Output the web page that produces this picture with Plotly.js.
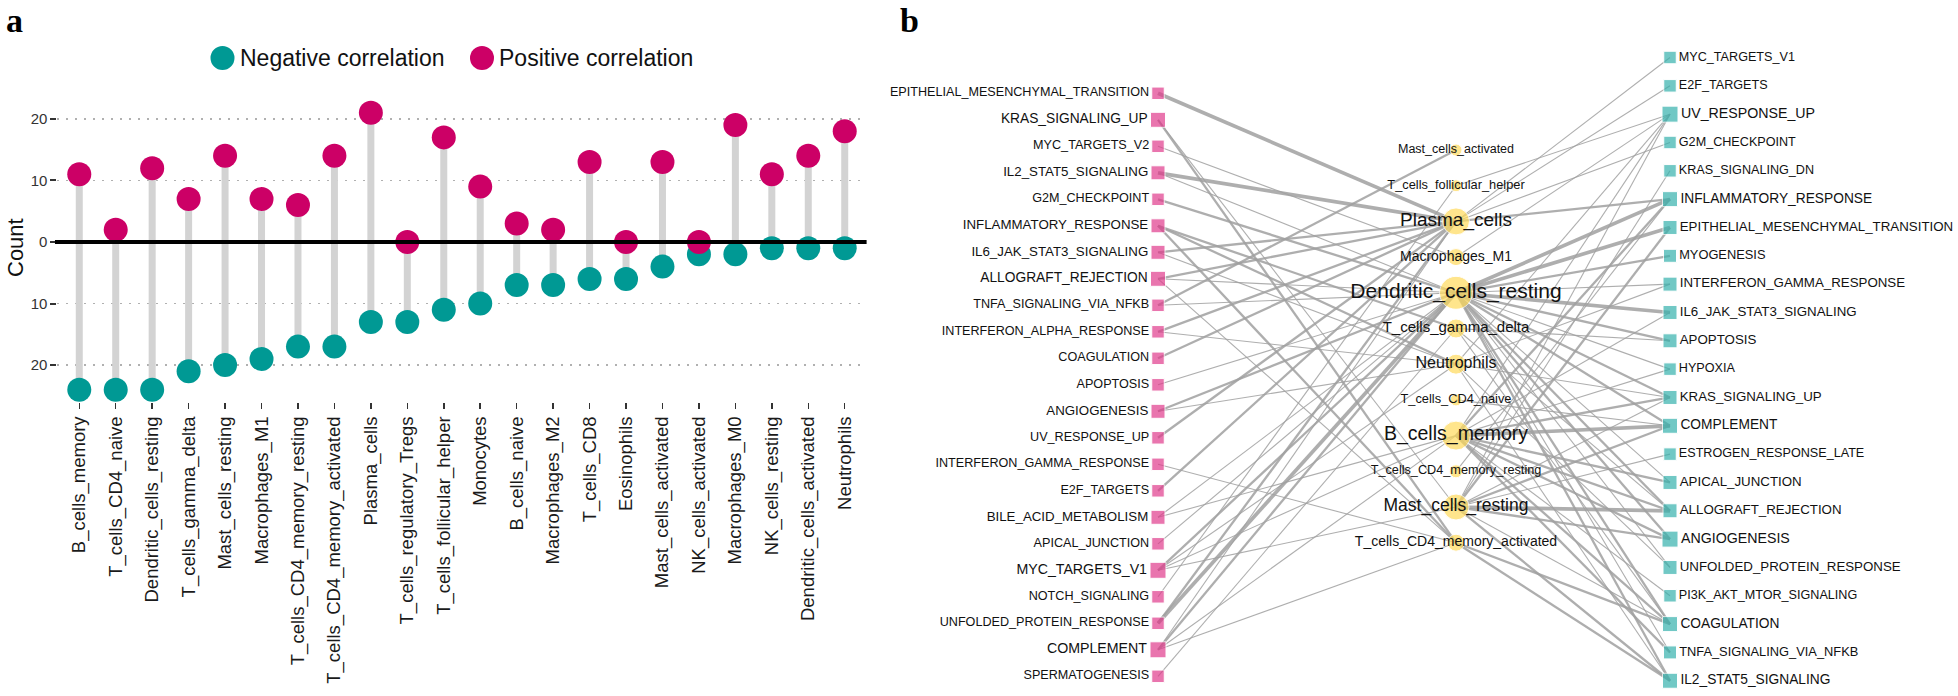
<!DOCTYPE html>
<html><head><meta charset="utf-8">
<script src="https://cdn.plot.ly/plotly-3.0.1.min.js"></script>
<style>html,body{margin:0;padding:0;background:#fff}#chart{width:1958px;height:696px}</style>
</head><body><div id="chart"></div>
<script>
// ================= Panel a data =================
const cellTypes = ["B_cells_memory","T_cells_CD4_naive","Dendritic_cells_resting","T_cells_gamma_delta","Mast_cells_resting","Macrophages_M1","T_cells_CD4_memory_resting","T_cells_CD4_memory_activated","Plasma_cells","T_cells_regulatory_Tregs","T_cells_follicular_helper","Monocytes","B_cells_naive","Macrophages_M2","T_cells_CD8","Eosinophils","Mast_cells_activated","NK_cells_activated","Macrophages_M0","NK_cells_resting","Dendritic_cells_activated","Neutrophils"];
const positiveCounts = [11,2,12,7,14,7,6,14,21,0,17,9,3,2,13,0,13,0,19,11,14,18];
const negativeCounts = [24,24,24,21,20,19,17,17,13,13,11,10,7,7,6,6,4,2,2,1,1,1];
const yTickVals = [-20,-10,0,10,20];
const yTickText = ["20","10","0","10","20"];
const legendLabels = ["Negative correlation","Positive correlation"];

// ================= Panel b data =================
const leftPathways = ["EPITHELIAL_MESENCHYMAL_TRANSITION","KRAS_SIGNALING_UP","MYC_TARGETS_V2","IL2_STAT5_SIGNALING","G2M_CHECKPOINT","INFLAMMATORY_RESPONSE","IL6_JAK_STAT3_SIGNALING","ALLOGRAFT_REJECTION","TNFA_SIGNALING_VIA_NFKB","INTERFERON_ALPHA_RESPONSE","COAGULATION","APOPTOSIS","ANGIOGENESIS","UV_RESPONSE_UP","INTERFERON_GAMMA_RESPONSE","E2F_TARGETS","BILE_ACID_METABOLISM","APICAL_JUNCTION","MYC_TARGETS_V1","NOTCH_SIGNALING","UNFOLDED_PROTEIN_RESPONSE","COMPLEMENT","SPERMATOGENESIS"];
const networkCells = ["Mast_cells_activated","T_cells_follicular_helper","Plasma_cells","Macrophages_M1","Dendritic_cells_resting","T_cells_gamma_delta","Neutrophils","T_cells_CD4_naive","B_cells_memory","T_cells_CD4_memory_resting","Mast_cells_resting","T_cells_CD4_memory_activated"];
const rightPathways = ["MYC_TARGETS_V1","E2F_TARGETS","UV_RESPONSE_UP","G2M_CHECKPOINT","KRAS_SIGNALING_DN","INFLAMMATORY_RESPONSE","EPITHELIAL_MESENCHYMAL_TRANSITION","MYOGENESIS","INTERFERON_GAMMA_RESPONSE","IL6_JAK_STAT3_SIGNALING","APOPTOSIS","HYPOXIA","KRAS_SIGNALING_UP","COMPLEMENT","ESTROGEN_RESPONSE_LATE","APICAL_JUNCTION","ALLOGRAFT_REJECTION","ANGIOGENESIS","UNFOLDED_PROTEIN_RESPONSE","PI3K_AKT_MTOR_SIGNALING","COAGULATION","TNFA_SIGNALING_VIA_NFKB","IL2_STAT5_SIGNALING"];
// [left pathway, cell, weight]
const leftEdges = [
 ["EPITHELIAL_MESENCHYMAL_TRANSITION","Plasma_cells",3],
 ["KRAS_SIGNALING_UP","T_cells_CD4_memory_activated",2],
 ["KRAS_SIGNALING_UP","Mast_cells_resting",1],
 ["MYC_TARGETS_V2","Macrophages_M1",1],
 ["IL2_STAT5_SIGNALING","Plasma_cells",3],
 ["IL2_STAT5_SIGNALING","Dendritic_cells_resting",1],
 ["G2M_CHECKPOINT","Dendritic_cells_resting",2],
 ["INFLAMMATORY_RESPONSE","Neutrophils",2],
 ["INFLAMMATORY_RESPONSE","T_cells_gamma_delta",2],
 ["INFLAMMATORY_RESPONSE","T_cells_CD4_memory_activated",2],
 ["IL6_JAK_STAT3_SIGNALING","Plasma_cells",2],
 ["IL6_JAK_STAT3_SIGNALING","Neutrophils",1],
 ["ALLOGRAFT_REJECTION","Plasma_cells",2],
 ["ALLOGRAFT_REJECTION","Dendritic_cells_resting",1],
 ["ALLOGRAFT_REJECTION","T_cells_CD4_memory_activated",1],
 ["TNFA_SIGNALING_VIA_NFKB","Mast_cells_activated",2],
 ["TNFA_SIGNALING_VIA_NFKB","Dendritic_cells_resting",1],
 ["INTERFERON_ALPHA_RESPONSE","Plasma_cells",2],
 ["INTERFERON_ALPHA_RESPONSE","Neutrophils",1],
 ["COAGULATION","Plasma_cells",2],
 ["APOPTOSIS","Dendritic_cells_resting",1],
 ["ANGIOGENESIS","Dendritic_cells_resting",2],
 ["ANGIOGENESIS","Neutrophils",1],
 ["UV_RESPONSE_UP","Plasma_cells",2],
 ["INTERFERON_GAMMA_RESPONSE","T_cells_CD4_memory_activated",1],
 ["E2F_TARGETS","Plasma_cells",2],
 ["BILE_ACID_METABOLISM","B_cells_memory",1],
 ["BILE_ACID_METABOLISM","Dendritic_cells_resting",1],
 ["APICAL_JUNCTION","Dendritic_cells_resting",1],
 ["MYC_TARGETS_V1","Mast_cells_resting",1],
 ["MYC_TARGETS_V1","B_cells_memory",1],
 ["MYC_TARGETS_V1","Dendritic_cells_resting",2],
 ["MYC_TARGETS_V1","Neutrophils",1],
 ["NOTCH_SIGNALING","T_cells_follicular_helper",1],
 ["UNFOLDED_PROTEIN_RESPONSE","Dendritic_cells_resting",3],
 ["UNFOLDED_PROTEIN_RESPONSE","Plasma_cells",2],
 ["COMPLEMENT","Dendritic_cells_resting",2],
 ["COMPLEMENT","Plasma_cells",1],
 ["COMPLEMENT","T_cells_CD4_memory_activated",1],
 ["COMPLEMENT","B_cells_memory",1],
 ["SPERMATOGENESIS","T_cells_gamma_delta",1]
];
// [cell, right pathway, weight]
const rightEdges = [
 ["Plasma_cells","MYC_TARGETS_V1",1],
 ["Plasma_cells","E2F_TARGETS",1],
 ["T_cells_follicular_helper","UV_RESPONSE_UP",1],
 ["Macrophages_M1","UV_RESPONSE_UP",1],
 ["Neutrophils","UV_RESPONSE_UP",1],
 ["B_cells_memory","UV_RESPONSE_UP",1],
 ["Mast_cells_resting","UV_RESPONSE_UP",1],
 ["Plasma_cells","G2M_CHECKPOINT",1],
 ["Mast_cells_resting","KRAS_SIGNALING_DN",1],
 ["Dendritic_cells_resting","INFLAMMATORY_RESPONSE",3],
 ["Plasma_cells","INFLAMMATORY_RESPONSE",2],
 ["B_cells_memory","INFLAMMATORY_RESPONSE",2],
 ["T_cells_CD4_memory_resting","INFLAMMATORY_RESPONSE",1],
 ["Dendritic_cells_resting","EPITHELIAL_MESENCHYMAL_TRANSITION",3],
 ["Mast_cells_resting","EPITHELIAL_MESENCHYMAL_TRANSITION",2],
 ["Dendritic_cells_resting","MYOGENESIS",2],
 ["Dendritic_cells_resting","INTERFERON_GAMMA_RESPONSE",1],
 ["Neutrophils","INTERFERON_GAMMA_RESPONSE",1],
 ["Dendritic_cells_resting","IL6_JAK_STAT3_SIGNALING",3],
 ["B_cells_memory","IL6_JAK_STAT3_SIGNALING",1],
 ["Dendritic_cells_resting","APOPTOSIS",2],
 ["T_cells_gamma_delta","APOPTOSIS",1],
 ["Dendritic_cells_resting","HYPOXIA",1],
 ["B_cells_memory","HYPOXIA",1],
 ["Dendritic_cells_resting","KRAS_SIGNALING_UP",2],
 ["B_cells_memory","KRAS_SIGNALING_UP",2],
 ["Mast_cells_resting","KRAS_SIGNALING_UP",1],
 ["Neutrophils","KRAS_SIGNALING_UP",1],
 ["B_cells_memory","COMPLEMENT",3],
 ["Mast_cells_resting","COMPLEMENT",2],
 ["Dendritic_cells_resting","COMPLEMENT",2],
 ["T_cells_CD4_naive","COMPLEMENT",1],
 ["Mast_cells_resting","ESTROGEN_RESPONSE_LATE",1],
 ["B_cells_memory","APICAL_JUNCTION",2],
 ["Dendritic_cells_resting","APICAL_JUNCTION",1],
 ["Mast_cells_resting","ALLOGRAFT_REJECTION",3],
 ["B_cells_memory","ALLOGRAFT_REJECTION",2],
 ["Dendritic_cells_resting","ALLOGRAFT_REJECTION",2],
 ["T_cells_gamma_delta","ALLOGRAFT_REJECTION",1],
 ["Mast_cells_resting","ANGIOGENESIS",2],
 ["Dendritic_cells_resting","ANGIOGENESIS",2],
 ["B_cells_memory","ANGIOGENESIS",2],
 ["Dendritic_cells_resting","UNFOLDED_PROTEIN_RESPONSE",1],
 ["Neutrophils","UNFOLDED_PROTEIN_RESPONSE",1],
 ["B_cells_memory","PI3K_AKT_MTOR_SIGNALING",1],
 ["Dendritic_cells_resting","COAGULATION",2],
 ["B_cells_memory","COAGULATION",2],
 ["Mast_cells_resting","COAGULATION",1],
 ["T_cells_CD4_memory_activated","COAGULATION",2],
 ["T_cells_gamma_delta","COAGULATION",1],
 ["Dendritic_cells_resting","TNFA_SIGNALING_VIA_NFKB",1],
 ["B_cells_memory","TNFA_SIGNALING_VIA_NFKB",2],
 ["Mast_cells_resting","IL2_STAT5_SIGNALING",2],
 ["T_cells_CD4_memory_activated","IL2_STAT5_SIGNALING",2],
 ["Dendritic_cells_resting","IL2_STAT5_SIGNALING",2],
 ["Neutrophils","IL2_STAT5_SIGNALING",1]
];

// ================= Styles (not data) =================
const W = 1958, H = 696;
const TEAL = "#009994", MAGENTA = "#CC0066";
const PINK = "#E03C8C", CYAN = "#36B2AD", YELLOW = "#FFDB5C";
const leftSquare = {KRAS_SIGNALING_UP:15, ALLOGRAFT_REJECTION:15, MYC_TARGETS_V1:16, COMPLEMENT:16, ANGIOGENESIS:14, BILE_ACID_METABOLISM:14, IL2_STAT5_SIGNALING:14, INFLAMMATORY_RESPONSE:14, IL6_JAK_STAT3_SIGNALING:14};
const rightSquare = {UV_RESPONSE_UP:16, INFLAMMATORY_RESPONSE:15, COMPLEMENT:15, ANGIOGENESIS:16, COAGULATION:15, IL2_STAT5_SIGNALING:15, EPITHELIAL_MESENCHYMAL_TRANSITION:14, INTERFERON_GAMMA_RESPONSE:14, IL6_JAK_STAT3_SIGNALING:14, APOPTOSIS:14, KRAS_SIGNALING_UP:14, APICAL_JUNCTION:14, ALLOGRAFT_REJECTION:14, UNFOLDED_PROTEIN_RESPONSE:14, MYOGENESIS:13, TNFA_SIGNALING_VIA_NFKB:13};
const cellCircle = {Mast_cells_activated:12, T_cells_follicular_helper:12, Plasma_cells:27, Macrophages_M1:17, Dendritic_cells_resting:33, T_cells_gamma_delta:19, Neutrophils:20, T_cells_CD4_naive:12, B_cells_memory:29, T_cells_CD4_memory_resting:13, Mast_cells_resting:26, T_cells_CD4_memory_activated:17};
const cellFont = {Mast_cells_activated:12.5, T_cells_follicular_helper:12.8, Plasma_cells:19, Macrophages_M1:14, Dendritic_cells_resting:21, T_cells_gamma_delta:15, Neutrophils:16, T_cells_CD4_naive:12.8, B_cells_memory:19.5, T_cells_CD4_memory_resting:12.7, Mast_cells_resting:17.5, T_cells_CD4_memory_activated:14};
const sqSize = (m, n) => m[n] || 12.5;
const sqFont = (m, n) => 12.4 + ((m[n] || 12.5) - 12) * 0.45;

// network layout (pixel-like coordinates on panel b axes)
const colX = {left: 1158, mid: 1456, right: 1670};
const leftY = i => 93.3 + i * 26.5;
const midY = i => 150 + i * 35.7;
const rightY = i => 57.5 + i * 28.33;
const posL = {}, posM = {}, posR = {};
leftPathways.forEach((n, i) => posL[n] = [colX.left, leftY(i)]);
networkCells.forEach((n, i) => posM[n] = [colX.mid, midY(i)]);
rightPathways.forEach((n, i) => posR[n] = [colX.right, rightY(i)]);

const traces = [];
// ---- Panel a traces ----
const segX = [], segY = [];
cellTypes.forEach((c, i) => { segX.push(c, c, null); segY.push(-negativeCounts[i], positiveCounts[i], null); });
traces.push({type: "scatter", mode: "lines", x: segX, y: segY, xaxis: "x", yaxis: "y",
  line: {color: "#D3D3D3", width: 7}, hoverinfo: "skip", showlegend: false});
traces.push({type: "scatter", mode: "markers", x: cellTypes, y: negativeCounts.map(v => -v), xaxis: "x", yaxis: "y",
  marker: {color: TEAL, size: 24}, name: legendLabels[0], showlegend: false});
traces.push({type: "scatter", mode: "markers", x: cellTypes, y: positiveCounts, xaxis: "x", yaxis: "y",
  marker: {color: MAGENTA, size: 24}, name: legendLabels[1], showlegend: false});

// ---- Panel b edges ----
const widthFor = {1: 1.1, 2: 2.3, 3: 3.7};
[1, 2, 3].forEach(w => {
  const ex = [], ey = [];
  leftEdges.filter(e => e[2] === w).forEach(e => { const a = posL[e[0]], b = posM[e[1]]; ex.push(a[0], b[0], null); ey.push(a[1], b[1], null); });
  rightEdges.filter(e => e[2] === w).forEach(e => { const a = posM[e[0]], b = posR[e[1]]; ex.push(a[0], b[0], null); ey.push(a[1], b[1], null); });
  traces.push({type: "scatter", mode: "lines", x: ex, y: ey, xaxis: "x2", yaxis: "y2",
    line: {color: "rgba(160,160,160,0.85)", width: widthFor[w]}, hoverinfo: "skip", showlegend: false});
});
// ---- Panel b nodes ----
traces.push({type: "scatter", mode: "markers+text", xaxis: "x2", yaxis: "y2", cliponaxis: false,
  x: leftPathways.map(n => posL[n][0]), y: leftPathways.map(n => posL[n][1]), text: leftPathways,
  textposition: "middle left", textfont: {family: "Liberation Sans, Arial", color: "#111", size: leftPathways.map(n => sqFont(leftSquare, n))},
  marker: {symbol: "square", color: PINK, size: leftPathways.map(n => sqSize(leftSquare, n))}, showlegend: false});
traces.push({type: "scatter", mode: "markers+text", xaxis: "x2", yaxis: "y2", cliponaxis: false,
  x: rightPathways.map(n => posR[n][0]), y: rightPathways.map(n => posR[n][1]), text: rightPathways,
  textposition: "middle right", textfont: {family: "Liberation Sans, Arial", color: "#111", size: rightPathways.map(n => sqFont(rightSquare, n))},
  marker: {symbol: "square", color: CYAN, size: rightPathways.map(n => sqSize(rightSquare, n))}, showlegend: false});
traces.push({type: "scatter", mode: "markers+text", xaxis: "x2", yaxis: "y2", cliponaxis: false,
  x: networkCells.map(n => posM[n][0]), y: networkCells.map(n => posM[n][1]), text: networkCells,
  textposition: "middle center", textfont: {family: "Liberation Sans, Arial", color: "#111", size: networkCells.map(n => cellFont[n])},
  marker: {symbol: "circle", color: YELLOW, size: networkCells.map(n => cellCircle[n])}, showlegend: false});

// ---- Layout ----
const px = v => v / W, py = v => 1 - v / H;
const bx0 = 1096;
const layout = {
  width: W, height: H, margin: {l: 0, r: 0, t: 0, b: 0},
  paper_bgcolor: "#fff", plot_bgcolor: "rgba(0,0,0,0)", showlegend: false,
  font: {family: "Liberation Sans, Arial", color: "#222"},
  xaxis: {domain: [px(57.4), px(866.6)], type: "category", categoryarray: cellTypes, categoryorder: "array",
    range: [-0.6, cellTypes.length - 0.4], showgrid: false, zeroline: false, showline: false,
    ticks: "outside", ticklen: 6, tickwidth: 1.5, tickcolor: "#333", tickangle: -90,
    tickfont: {size: 18.5, color: "#1a1a1a", family: "Liberation Sans, Arial"}, anchor: "y", fixedrange: true},
  yaxis: {domain: [py(402), py(98)], range: [-26.0, 23.4], tickvals: yTickVals, ticktext: yTickText,
    showgrid: true, gridcolor: "#b0b0b0", gridwidth: 1.5, griddash: "2px,7px", zeroline: false, showline: false,
    ticks: "outside", ticklen: 6, tickwidth: 2, tickcolor: "#333",
    tickfont: {size: 15, color: "#333", family: "Liberation Sans, Arial"}, anchor: "x", fixedrange: true},
  xaxis2: {domain: [px(bx0), 1], range: [bx0, W], visible: false, anchor: "y2", fixedrange: true},
  yaxis2: {domain: [0, 1], range: [H, 0], visible: false, anchor: "x2", fixedrange: true},
  shapes: [
    {type: "line", xref: "x domain", yref: "y", x0: -0.003, x1: 1.0, y0: 0, y1: 0, layer: "above",
      line: {color: "#000", width: 4}},
    {type: "circle", xref: "paper", yref: "paper", xsizemode: "pixel", ysizemode: "pixel",
      xanchor: px(222.5), yanchor: py(58), x0: -12, x1: 12, y0: -12, y1: 12, fillcolor: TEAL, line: {width: 0}},
    {type: "circle", xref: "paper", yref: "paper", xsizemode: "pixel", ysizemode: "pixel",
      xanchor: px(482), yanchor: py(58), x0: -12, x1: 12, y0: -12, y1: 12, fillcolor: MAGENTA, line: {width: 0}}
  ],
  annotations: [
    {text: legendLabels[0], xref: "paper", yref: "paper", x: px(238), y: py(58), xanchor: "left", yanchor: "middle",
      showarrow: false, font: {size: 23, color: "#111", family: "Liberation Sans, Arial"}},
    {text: legendLabels[1], xref: "paper", yref: "paper", x: px(497), y: py(58), xanchor: "left", yanchor: "middle",
      showarrow: false, font: {size: 23, color: "#111", family: "Liberation Sans, Arial"}},
    {text: "Count", xref: "paper", yref: "paper", x: px(15), y: py(248), xanchor: "center", yanchor: "middle",
      textangle: -90, showarrow: false, font: {size: 22, color: "#111", family: "Liberation Sans, Arial"}},
    {text: "<b>a</b>", xref: "paper", yref: "paper", x: px(4), y: py(0), xanchor: "left", yanchor: "top",
      showarrow: false, font: {size: 34, color: "#000", family: "Liberation Serif, Times New Roman, serif"}},
    {text: "<b>b</b>", xref: "paper", yref: "paper", x: px(898), y: py(0), xanchor: "left", yanchor: "top",
      showarrow: false, font: {size: 34, color: "#000", family: "Liberation Serif, Times New Roman, serif"}}
  ]
};
Plotly.newPlot("chart", traces, layout, {displayModeBar: false, staticPlot: true});
</script></body></html>
